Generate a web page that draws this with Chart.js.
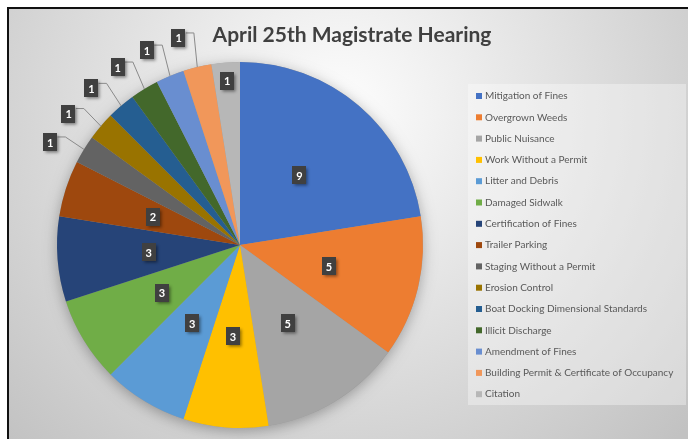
<!DOCTYPE html>
<html><head><meta charset="utf-8">
<script src="https://cdn.jsdelivr.net/npm/chart.js@4/dist/chart.umd.min.js"></script>
<style>html,body{margin:0;padding:0;background:#fff;overflow:hidden}canvas{display:block}</style>
</head><body>
<canvas id="c" width="688" height="439" style="width:688px;height:439px"></canvas>
<script>
const titleText = 'April 25th Magistrate Hearing';
const categories = [
  'Mitigation of Fines','Overgrown Weeds','Public Nuisance','Work Without a Permit',
  'Litter and Debris','Damaged Sidwalk','Certification of Fines','Trailer Parking',
  'Staging Without a Permit','Erosion Control','Boat Docking Dimensional Standards',
  'Illicit Discharge','Amendment of Fines','Building Permit & Certificate of Occupancy','Citation'
];
const counts = [9,5,5,3,3,3,3,2,1,1,1,1,1,1,1];
const sliceColors = [
  '#4472C4','#ED7D31','#A5A5A5','#FFC000','#5B9BD5','#70AD47','#264478','#9E480E',
  '#636363','#997300','#255E91','#43682B','#698ED0','#F1975A','#B7B7B7'
];
const labelPlacement = ['in','in','in','in','in','in','in','in','out','out','out','out','out','out','inEnd'];

const FONT = 'Lato, "Liberation Sans", sans-serif';

const decorPlugin = {
  id: 'decor',
  beforeDraw(chart) {
    const ctx = chart.ctx, w = chart.width, h = chart.height;
    ctx.save();
    ctx.fillStyle = '#ffffff';
    ctx.fillRect(0, 0, w, h);
    const g = ctx.createRadialGradient(340, 110, 10, 340, 110, 470);
    g.addColorStop(0, '#fcfcfc');
    g.addColorStop(1, '#c2c2c2');
    ctx.fillStyle = g;
    ctx.fillRect(8, 8, w - 8, h - 8);
    ctx.strokeStyle = '#111';
    ctx.lineWidth = 2;
    ctx.beginPath();
    ctx.moveTo(8, h); ctx.lineTo(8, 8); ctx.lineTo(w, 8);
    ctx.stroke();
    // title
    ctx.fillStyle = '#404040';
    ctx.font = 'bold 21px ' + FONT;
    ctx.textAlign = 'center';
    ctx.textBaseline = 'middle';
    ctx.fillText(titleText, 352, 35);
    // legend box
    ctx.fillStyle = 'rgba(255,255,255,0.35)';
    ctx.fillRect(468, 84, 218, 321);
    // pie shadow
    const meta = chart.getDatasetMeta(0);
    const a = meta.data[0];
    if (a) {
      ctx.shadowColor = 'rgba(0,0,0,0.3)';
      ctx.shadowBlur = 14;
      ctx.shadowOffsetY = 3;
      ctx.fillStyle = '#999';
      ctx.beginPath();
      ctx.arc(a.x, a.y, a.outerRadius, 0, Math.PI * 2);
      ctx.fill();
    }
    ctx.restore();
  },
  afterDatasetsDraw(chart) {
    const ctx = chart.ctx;
    const meta = chart.getDatasetMeta(0);
    ctx.save();
    // legend
    ctx.font = '10px ' + FONT;
    ctx.textBaseline = 'middle';
    ctx.textAlign = 'left';
    categories.forEach((c, i) => {
      const y = 96 + i * 21.3;
      ctx.fillStyle = sliceColors[i];
      ctx.fillRect(476, y - 3, 6, 6);
      ctx.fillStyle = '#595959';
      ctx.fillText(c, 485, y);
    });
    // data labels
    meta.data.forEach((arc, i) => {
      const mid = (arc.startAngle + arc.endAngle) / 2;
      const R = arc.outerRadius;
      let cx, cy;
      const txt = String(counts[i]);
      ctx.font = 'bold 11px ' + FONT;
      const bw = ctx.measureText(txt).width + 8, bh = 18;
      if (labelPlacement[i] === 'in') {
        const p = arc.tooltipPosition();
        cx = p.x; cy = p.y;
      } else if (labelPlacement[i] === 'inEnd') {
        cx = arc.x + Math.cos(mid) * R * 0.9;
        cy = arc.y + Math.sin(mid) * R * 0.9;
      } else {
        const ang = mid - 3 * Math.PI / 180;
        cx = arc.x + Math.cos(ang) * R * 1.18;
        cy = arc.y + Math.sin(ang) * R * 1.18;
        const px = arc.x + Math.cos(mid) * R, py = arc.y + Math.sin(mid) * R;
        const sx = cx + bw / 2, sy = cy - 5;
        const ex = Math.min(sx + 8, px - 2);
        ctx.strokeStyle = '#8a8a8a';
        ctx.lineWidth = 1;
        ctx.beginPath();
        ctx.moveTo(sx, sy); ctx.lineTo(ex, sy); ctx.lineTo(px, py);
        ctx.stroke();
      }
      ctx.save();
      ctx.shadowColor = 'rgba(0,0,0,0.45)';
      ctx.shadowBlur = 3;
      ctx.shadowOffsetX = 1.5;
      ctx.shadowOffsetY = 1.5;
      ctx.fillStyle = '#404040';
      ctx.fillRect(Math.round(cx - bw / 2), Math.round(cy - bh / 2), Math.round(bw), bh);
      ctx.restore();
      ctx.fillStyle = '#ffffff';
      ctx.textAlign = 'center';
      ctx.textBaseline = 'middle';
      ctx.fillText(txt, cx, cy + 1);
    });
    ctx.restore();
  }
};

new Chart(document.getElementById('c'), {
  type: 'pie',
  data: {
    labels: categories,
    datasets: [{
      data: counts,
      backgroundColor: sliceColors,
      borderWidth: 0
    }]
  },
  options: {
    responsive: false,
    animation: false,
    devicePixelRatio: 1,
    layout: { padding: { left: 57, right: 265, top: 62, bottom: 11 } },
    plugins: {
      legend: { display: false },
      title: { display: false },
      tooltip: { enabled: false }
    }
  },
  plugins: [decorPlugin]
});
</script>
</body></html>
